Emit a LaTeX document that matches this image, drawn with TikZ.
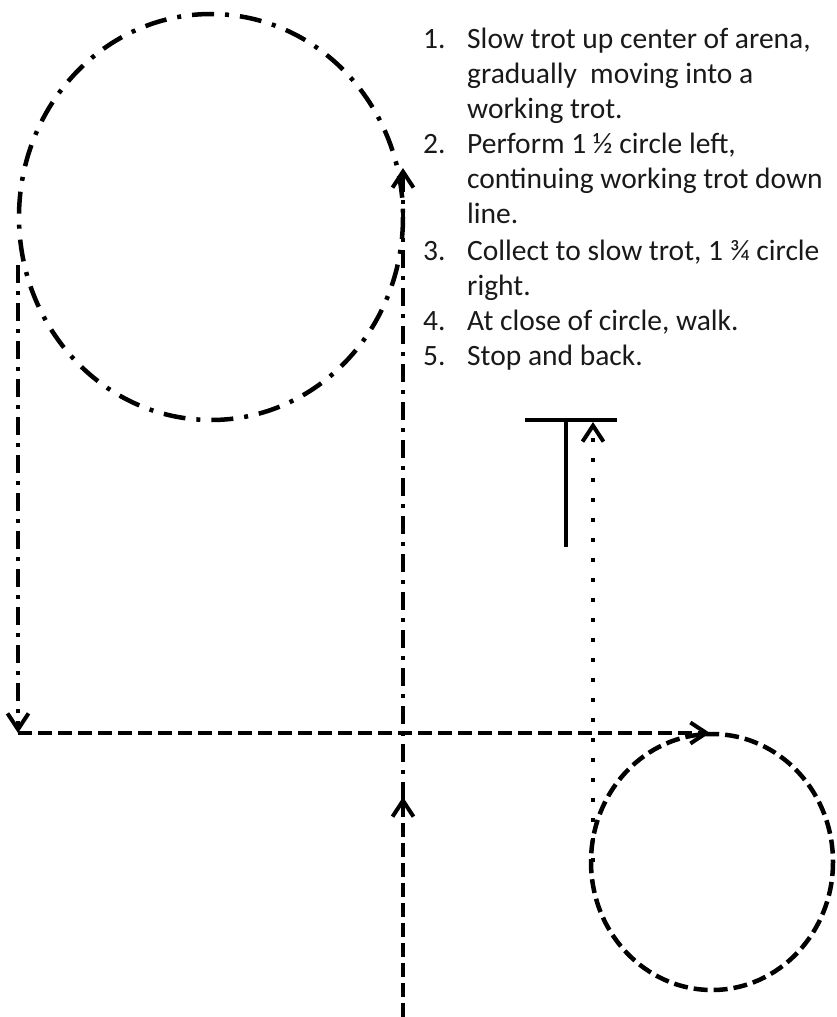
\documentclass[tikz,border=0pt]{standalone}
\usepackage{fontspec}
\setmainfont{Carlito}
\usetikzlibrary{arrows.meta}
\begin{document}
\begin{tikzpicture}[x=1pt,y=-1pt,
  txt/.style={anchor=base west,inner sep=0pt,font=\fontsize{29.5}{35}\selectfont,text=black!90},
  dashdot/.style={line width=4.5pt,dash pattern=on 22pt off 11pt on 4pt off 11pt},
  dashdotv/.style={line width=4.5pt,dash pattern=on 18pt off 8pt on 4pt off 8pt},
  dashline/.style={line width=4.5pt,dash pattern=on 14pt off 6pt},
  dotline/.style={line width=4.5pt,dash pattern=on 4pt off 16pt},
  barb/.style={-{Straight Barb[length=16pt,width=21pt,line width=4pt]}},
  solidline/.style={line width=4.5pt}]
\useasboundingbox (0,0) rectangle (837,1017);
% top-left circle (1 1/2 circle left)
\draw[dashdot] (211,217) ellipse [x radius=192, y radius=203];
% coordinates of the route
\coordinate (start) at (403,1017);
\coordinate (midarrow) at (403,797);
\coordinate (toparrow) at (403,168);
\coordinate (leftstart) at (18,265);
\coordinate (corner) at (18,733);
\coordinate (rightarrow) at (710,733);
\coordinate (dotstart) at (593,862);
\coordinate (stoparrow) at (593,422);
\coordinate (barL) at (525,420);
\coordinate (barR) at (617,420);
\coordinate (stemT) at (566,420);
\coordinate (stemB) at (566,547);
% center line
\draw[dashline,barb] (start) -- (midarrow);
\draw[dashdotv,barb] (403,800) -- (toparrow);
% exit left down
\draw[dashdotv,barb] (leftstart) -- (corner);
% across
\draw[dashline,barb] (corner) -- (rightarrow);
% right circle
\draw[dashline] (712,862) ellipse [x radius=121, y radius=128];
% dotted to stop
\draw[dotline,barb] (dotstart) -- (stoparrow);
% T
\draw[solidline] (barL) -- (barR);
\draw[solidline] (stemT) -- (stemB);
% text
\node[txt] (n1) at (423,48) {1.};
\node[txt] (t1a) at (467,48) {Slow trot up center of arena,};
\node[txt] (t1b) at (467,83) {gradually~ moving into a};
\node[txt] (t1c) at (467,118) {working trot.};
\node[txt] (n2) at (423,153) {2.};
\node[txt] (t2a) at (467,153) {Perform 1 ½ circle left,};
\node[txt] (t2b) at (467,188) {continuing working trot down};
\node[txt] (t2c) at (467,223) {line.};
\node[txt] (n3) at (423,260) {3.};
\node[txt] (t3a) at (467,260) {Collect to slow trot, 1 ¾ circle};
\node[txt] (t3b) at (467,295) {right.};
\node[txt] (n4) at (423,330) {4.};
\node[txt] (t4) at (467,330) {At close of circle, walk.};
\node[txt] (n5) at (423,365) {5.};
\node[txt] (t5) at (467,365) {Stop and back.};
\end{tikzpicture}
\end{document}
